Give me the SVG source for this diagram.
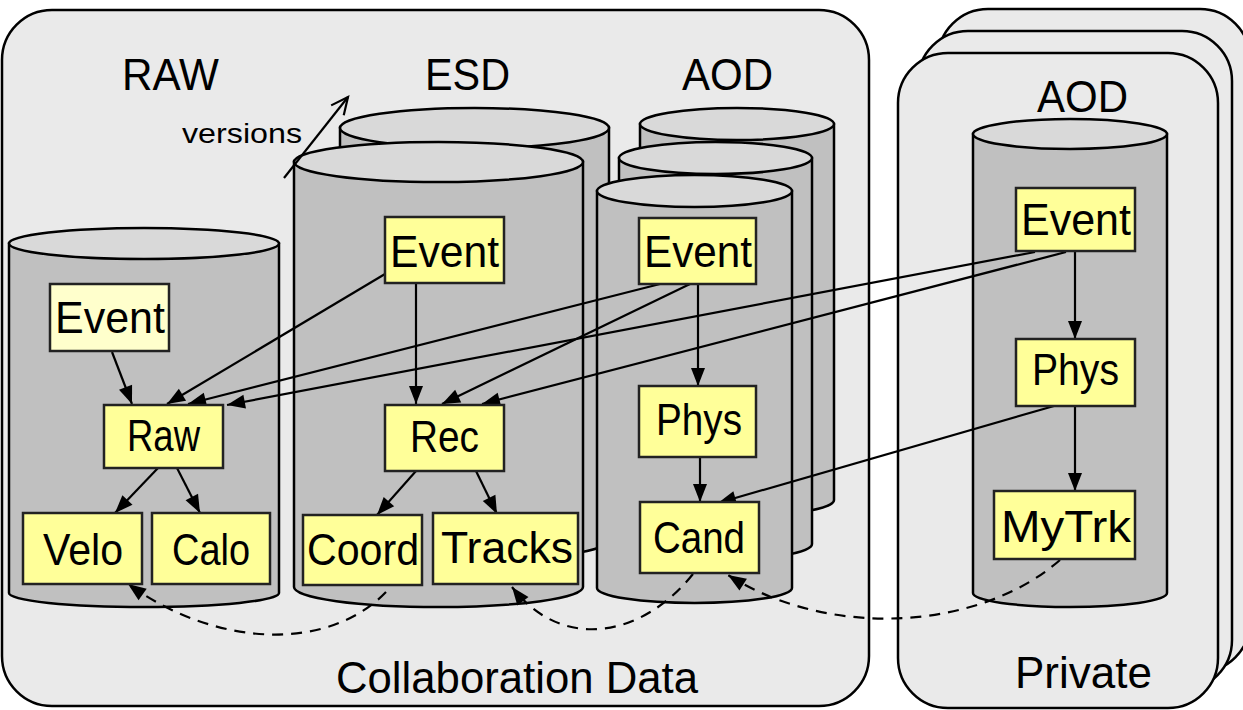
<svg xmlns="http://www.w3.org/2000/svg" width="1243" height="710" viewBox="0 0 1243 710">
<style>
.panel{fill:#eaeaea;stroke:#000;stroke-width:2.5}
.cylb{fill:#c0c0c0;stroke:#000;stroke-width:2.5}
.cylt{fill:#d9d9d9;stroke:#000;stroke-width:2.5}
.box{fill:#ffff99;stroke:#222;stroke-width:2.5}
.box2{fill:#ffffcc;stroke:#222;stroke-width:2.5}
.t{font-family:"Liberation Sans","DejaVu Sans",sans-serif;font-size:44px;fill:#000}
.s{font-family:"Liberation Sans","DejaVu Sans",sans-serif;font-size:28px;fill:#000}
.c{fill:none;stroke:#000;stroke-width:2.2;marker-end:url(#ah)}
.d{fill:none;stroke:#000;stroke-width:2.2;stroke-dasharray:11 8;marker-end:url(#ah)}
</style>
<defs>
<marker id="ah" markerUnits="userSpaceOnUse" markerWidth="18" markerHeight="14" refX="18" refY="7" orient="auto" overflow="visible">
<path d="M0,0 L18,7 L0,14 z" fill="#000"/>
</marker>
<marker id="oh" markerUnits="userSpaceOnUse" markerWidth="20" markerHeight="16" refX="18" refY="8" orient="auto" overflow="visible">
<path d="M1,0 L18,8 L1,16" fill="none" stroke="#000" stroke-width="2.2"/>
</marker>
</defs>

<g id="collaboration-panel">
<rect class="panel" x="2" y="10" width="867" height="696" rx="50" ry="50"/>
<text class="t" x="336" y="693" textLength="362" lengthAdjust="spacingAndGlyphs">Collaboration Data</text>
</g>

<g id="private-panel">
<rect class="panel" x="938" y="9" width="312" height="663" rx="50" ry="50"/>
<rect class="panel" x="918" y="31" width="314" height="659" rx="50" ry="50"/>
<rect class="panel" x="898" y="53" width="320" height="655" rx="50" ry="50"/>
<text class="t" x="1015" y="688" textLength="137" lengthAdjust="spacingAndGlyphs">Private</text>
</g>

<g id="raw-cylinder">
<path class="cylb" d="M9,243.5 L9,593 A135,14 0 0 0 279,593 L279,243.5 Z"/>
<ellipse class="cylt" cx="144" cy="243.5" rx="135" ry="15.5"/>
<text class="t" x="122" y="90" textLength="97" lengthAdjust="spacingAndGlyphs">RAW</text>
</g>

<g id="esd-cylinders">
<path class="cylb" d="M340,128 L340,540 A134.5,20 0 0 0 609,540 L609,128 Z"/>
<ellipse class="cylt" cx="474.5" cy="128" rx="134.5" ry="20"/>
<path class="cylb" d="M294,162 L294,587 A144.5,20 0 0 0 583,587 L583,162 Z"/>
<ellipse class="cylt" cx="438.5" cy="162" rx="144.5" ry="20"/>
<text class="t" x="425" y="90" textLength="85" lengthAdjust="spacingAndGlyphs">ESD</text>
</g>

<g id="aod-cylinders">
<path class="cylb" d="M640,124 L640,500 A97,16 0 0 0 834,500 L834,124 Z"/>
<ellipse class="cylt" cx="737" cy="124" rx="97" ry="16"/>
<path class="cylb" d="M619,158 L619,544 A96.5,16 0 0 0 812,544 L812,158 Z"/>
<ellipse class="cylt" cx="715.5" cy="158" rx="96.5" ry="16"/>
<path class="cylb" d="M597,191 L597,588 A97.5,15 0 0 0 792,588 L792,191 Z"/>
<ellipse class="cylt" cx="694.5" cy="191" rx="97.5" ry="16"/>
<text class="t" x="682" y="90" textLength="91" lengthAdjust="spacingAndGlyphs">AOD</text>
</g>

<g id="private-cylinder">
<path class="cylb" d="M973,134 L973,593 A97,14 0 0 0 1167,593 L1167,134 Z"/>
<ellipse class="cylt" cx="1070" cy="134" rx="97" ry="15"/>
<text class="t" x="1037" y="112" textLength="91" lengthAdjust="spacingAndGlyphs">AOD</text>
</g>

<g id="versions">
<line x1="284" y1="178" x2="348" y2="97" stroke="#000" stroke-width="2.2" marker-end="url(#oh)"/>
<text class="s" x="182" y="143" textLength="120" lengthAdjust="spacingAndGlyphs">versions</text>
</g>

<g id="connectors">
<line class="c" x1="112" y1="352" x2="132" y2="404"/>
<line class="c" x1="385" y1="274" x2="167" y2="404"/>
<line class="c" x1="660" y1="284" x2="188" y2="404"/>
<line class="c" x1="1035" y1="252" x2="227" y2="405"/>
<line class="c" x1="416" y1="284" x2="416" y2="404"/>
<line class="c" x1="690" y1="284" x2="442" y2="404"/>
<line class="c" x1="1066" y1="252" x2="482" y2="404"/>
<line class="c" x1="158" y1="468" x2="115" y2="513"/>
<line class="c" x1="177" y1="468" x2="200" y2="513"/>
<line class="c" x1="416" y1="471" x2="377" y2="515"/>
<line class="c" x1="476" y1="471" x2="497" y2="514"/>
<line class="c" x1="698" y1="284" x2="698" y2="386"/>
<line class="c" x1="700" y1="457" x2="700" y2="502"/>
<line class="c" x1="1054" y1="406" x2="718" y2="503"/>
<line class="c" x1="1075" y1="252" x2="1075" y2="339"/>
<line class="c" x1="1075" y1="406" x2="1075" y2="491"/>
<path class="d" d="M386,592 C330,650 220,650 128,584"/>
<path class="d" d="M693,574 C640,640 560,650 512,587"/>
<path class="d" d="M1060,560 C980,630 830,640 728,575"/>
</g>

<g id="raw-event"><rect class="box2" x="50" y="284" width="119" height="67"/><text class="t" x="55" y="333" textLength="110" lengthAdjust="spacingAndGlyphs">Event</text></g>
<g id="raw"><rect class="box" x="104" y="405" width="119" height="63"/><text class="t" x="127" y="451" textLength="73" lengthAdjust="spacingAndGlyphs">Raw</text></g>
<g id="velo"><rect class="box" x="23" y="513" width="119" height="71"/><text class="t" x="43" y="565" textLength="80" lengthAdjust="spacingAndGlyphs">Velo</text></g>
<g id="calo"><rect class="box" x="152" y="513" width="118" height="71"/><text class="t" x="172" y="565" textLength="78" lengthAdjust="spacingAndGlyphs">Calo</text></g>
<g id="esd-event"><rect class="box" x="385" y="217" width="119" height="66"/><text class="t" x="390" y="267" textLength="109" lengthAdjust="spacingAndGlyphs">Event</text></g>
<g id="rec"><rect class="box" x="385" y="405" width="119" height="66"/><text class="t" x="410" y="452" textLength="69" lengthAdjust="spacingAndGlyphs">Rec</text></g>
<g id="coord"><rect class="box" x="303" y="515" width="119" height="70"/><text class="t" x="307" y="565" textLength="112" lengthAdjust="spacingAndGlyphs">Coord</text></g>
<g id="tracks"><rect class="box" x="433" y="513" width="145" height="71"/><text class="t" x="441" y="563" textLength="132" lengthAdjust="spacingAndGlyphs">Tracks</text></g>
<g id="aod-event"><rect class="box" x="639" y="218" width="117" height="66"/><text class="t" x="644" y="267" textLength="108" lengthAdjust="spacingAndGlyphs">Event</text></g>
<g id="aod-phys"><rect class="box" x="639" y="386" width="117" height="71"/><text class="t" x="656" y="435" textLength="86" lengthAdjust="spacingAndGlyphs">Phys</text></g>
<g id="cand"><rect class="box" x="640" y="502" width="119" height="71"/><text class="t" x="653" y="553" textLength="92" lengthAdjust="spacingAndGlyphs">Cand</text></g>
<g id="private-event"><rect class="box" x="1016" y="188" width="119" height="63"/><text class="t" x="1021" y="235" textLength="110" lengthAdjust="spacingAndGlyphs">Event</text></g>
<g id="private-phys"><rect class="box" x="1016" y="339" width="119" height="67"/><text class="t" x="1032" y="385" textLength="87" lengthAdjust="spacingAndGlyphs">Phys</text></g>
<g id="mytrk"><rect class="box" x="994" y="491" width="141" height="68"/><text class="t" x="1001" y="542" textLength="130" lengthAdjust="spacingAndGlyphs">MyTrk</text></g>
</svg>
